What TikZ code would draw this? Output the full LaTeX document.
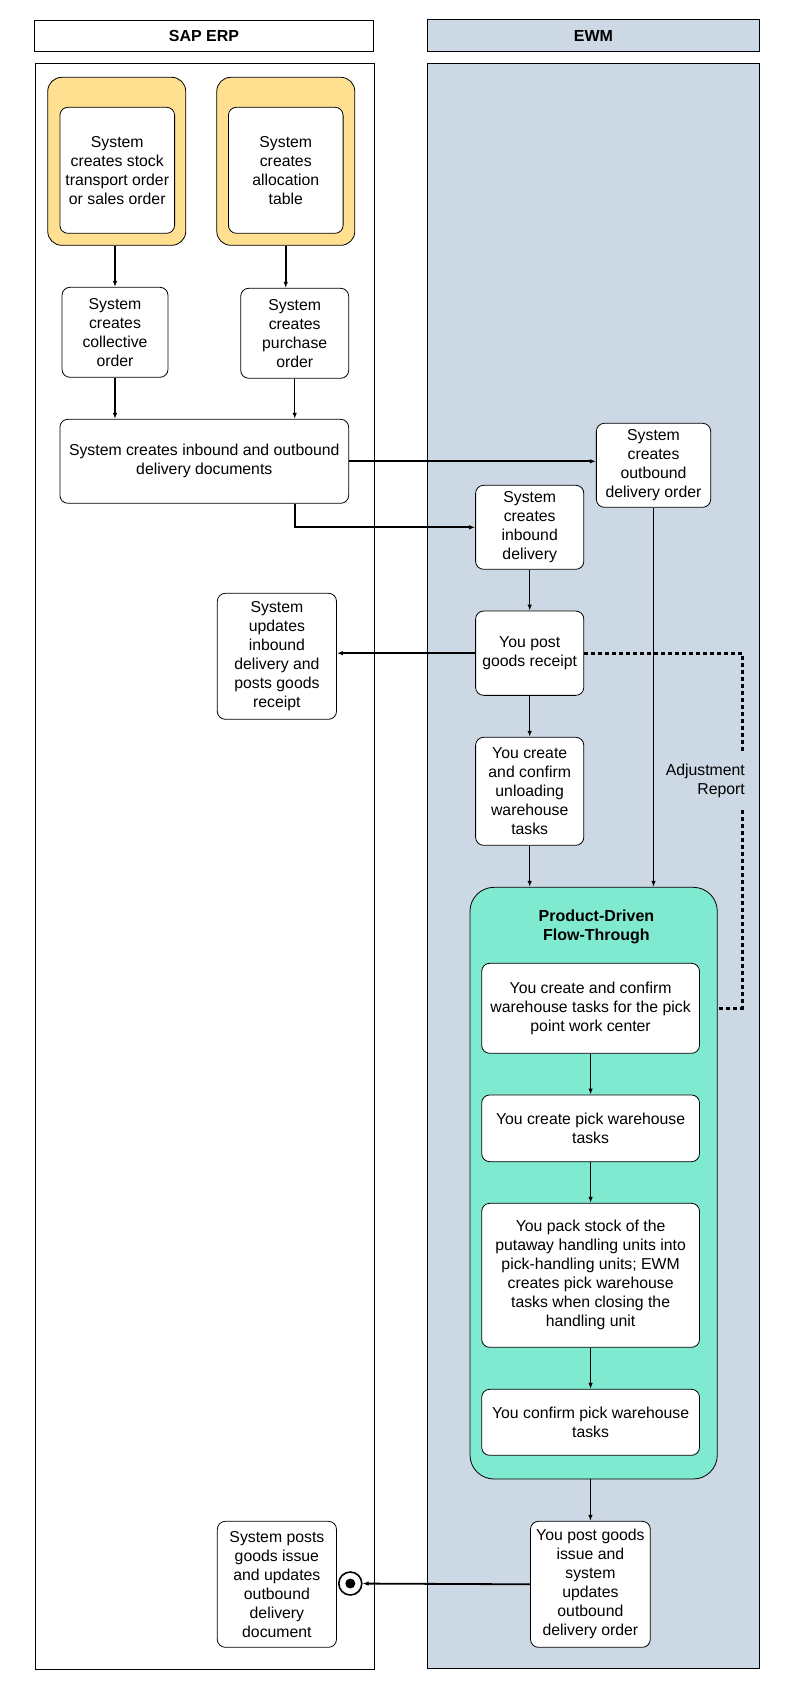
\documentclass[tikz,border=0pt]{standalone}
\usepackage{fontspec}
\setmainfont{Liberation Sans}
\usetikzlibrary{arrows.meta,calc}
\definecolor{lanegrey}{RGB}{204,216,228}
\definecolor{startyellow}{RGB}{255,224,145}
\definecolor{flowgreen}{RGB}{128,234,208}

\begin{document}
\begin{tikzpicture}[x=1pt, y=-1pt,
    every node/.style={font=\fontsize{15.8}{19}\selectfont, align=center, inner sep=1pt},
    lane/.style={draw, line width=0.8pt},
    header/.style={draw, line width=1pt, font=\fontsize{16}{19}\selectfont\bfseries},
    taskbox/.style={draw, fill=white, rounded corners=8pt, line width=0.8pt},
    startbox/.style={draw, fill=startyellow, rounded corners=14pt, line width=0.8pt},
    flowbox/.style={draw, fill=flowgreen, rounded corners=24pt, line width=0.8pt},
    flow/.style={-{Latex[length=6pt,width=4.5pt]}, line width=1.2pt},
    flowthick/.style={flow, line width=1.8pt},
    adjline/.style={line width=3pt, dash pattern=on 3.5pt off 3.5pt},
    endstate/.style={circle, draw, line width=1.6pt, minimum size=23pt, inner sep=0pt,
        path picture={\fill (path picture bounding box.center) circle (5pt);}}
]
\useasboundingbox (0,0) rectangle (792,1699);

% swimlanes
\node[header, minimum width=339pt, minimum height=31.4pt] (hsap) at (204,36) {SAP ERP};
\node[header, fill=lanegrey, minimum width=332pt, minimum height=32.4pt] (hewm) at (593.4,35.5) {EWM};
\draw[lane] (35.5,63.3) rectangle (374,1669.3);
\draw[lane, fill=lanegrey] (427.4,63.3) rectangle (759.4,1668.3);

% SAP ERP
\node[startbox, minimum width=138pt, minimum height=168pt] (yel1) at (116.75,161.3) {};
\node[taskbox, minimum width=114.7pt, minimum height=126pt] (sto) at (117.25,170.3) {System\\creates stock\\transport order\\or sales order};
\node[startbox, minimum width=138pt, minimum height=168pt] (yel2) at (285.8,161.3) {};
\node[taskbox, minimum width=114.7pt, minimum height=126pt] (alloc) at (285.75,170.3) {System\\creates\\allocation\\table};
\node[taskbox, minimum width=106pt, minimum height=90pt] (co) at (115,332.3) {System\\creates\\collective\\order};
\node[taskbox, minimum width=108pt, minimum height=90pt] (po) at (294.7,333.3) {System\\creates\\purchase\\order};
\node[taskbox, minimum width=288.8pt, minimum height=84pt] (ibo) at (204.3,461.3) {System creates inbound and outbound\\delivery documents};
\node[taskbox, minimum width=119.2pt, minimum height=126pt] (upd) at (276.9,656.3) {System\\updates\\inbound\\delivery and\\posts goods\\receipt};
\node[taskbox, minimum width=119.2pt, minimum height=126pt] (pgi) at (276.9,1584.3) {System posts\\goods issue\\and updates\\outbound\\delivery\\document};
\node[endstate] (endc) at (350.3,1583.5) {};

% EWM
\node[taskbox, minimum width=114.3pt, minimum height=84pt] (obd) at (653.5,465.3) {System\\creates\\outbound\\delivery order};
\node[taskbox, minimum width=108.2pt, minimum height=84pt] (ind) at (529.7,527.3) {System\\creates\\inbound\\delivery};
\node[taskbox, minimum width=108.2pt, minimum height=84.3pt] (gr) at (529.7,653.2) {You post\\goods receipt};
\node[taskbox, minimum width=108.2pt, minimum height=108pt] (unl) at (529.7,791.3) {You create\\and confirm\\unloading\\warehouse\\tasks};
\node[flowbox, minimum width=247.3pt, minimum height=591.7pt] (flow) at (593.65,1183.15) {};
\node[font=\fontsize{16}{19}\selectfont\bfseries] (flowtitle) at (596.4,927) {Product-Driven\\Flow-Through};
\node[taskbox, minimum width=217.8pt, minimum height=90pt] (ppwc) at (590.6,1008.3) {You create and confirm\\warehouse tasks for the pick\\point work center};
\node[taskbox, minimum width=217.8pt, minimum height=66.7pt] (cpwt) at (590.6,1128.3) {You create pick warehouse\\tasks};
\node[taskbox, minimum width=217.8pt, minimum height=144pt] (pack) at (590.6,1275.3) {You pack stock of the\\putaway handling units into\\pick-handling units; EWM\\creates pick warehouse\\tasks when closing the\\handling unit};
\node[taskbox, minimum width=217.8pt, minimum height=66pt] (cfpw) at (590.6,1422.3) {You confirm pick warehouse\\tasks};
\node[taskbox, minimum width=119.8pt, minimum height=126pt] (fin) at (590.4,1584.3) {You post goods\\issue and\\system\\updates\\outbound\\delivery order};

% connectors
\draw[flowthick] (yel1.south -| co.north) -- (co.north);
\draw[flowthick] (yel2.south -| alloc.south) -- (alloc.south |- po.north);
\draw[flow] (co.south) -- (co.south |- ibo.north);
\draw[flow] (po.south) -- (po.south |- ibo.north);
\draw[flowthick] (ibo.east) -- (ibo.east -| obd.west);
\draw[flowthick] (ibo.south -| po.south) |- (ind.west);
\draw[flow] (ind) -- (gr);
\draw[flowthick] (gr.west) -- (gr.west -| upd.east);
\draw[flow] (gr) -- (unl);
\draw[flow] (unl.south) -- (unl.south |- flow.north);
\draw[flow] (obd.south) -- (obd.south |- flow.north);
\draw[flow] (ppwc) -- (cpwt);
\draw[flow] (cpwt) -- (pack);
\draw[flow] (pack) -- (cfpw);
\draw[flow] (fin.north |- flow.south) -- (fin.north);
\draw[flowthick] (fin.west) -- (endc);

% adjustment report
\coordinate (adjx) at (742,0);
\draw[adjline] (gr.east) -| (ppwc.east -| adjx) -- (flow.east |- ppwc.east);
\node[fill=lanegrey, align=right, inner sep=2pt, minimum height=56pt, anchor=east] (adjlbl) at (747,781) {Adjustment\\Report};
\end{tikzpicture}
\end{document}
